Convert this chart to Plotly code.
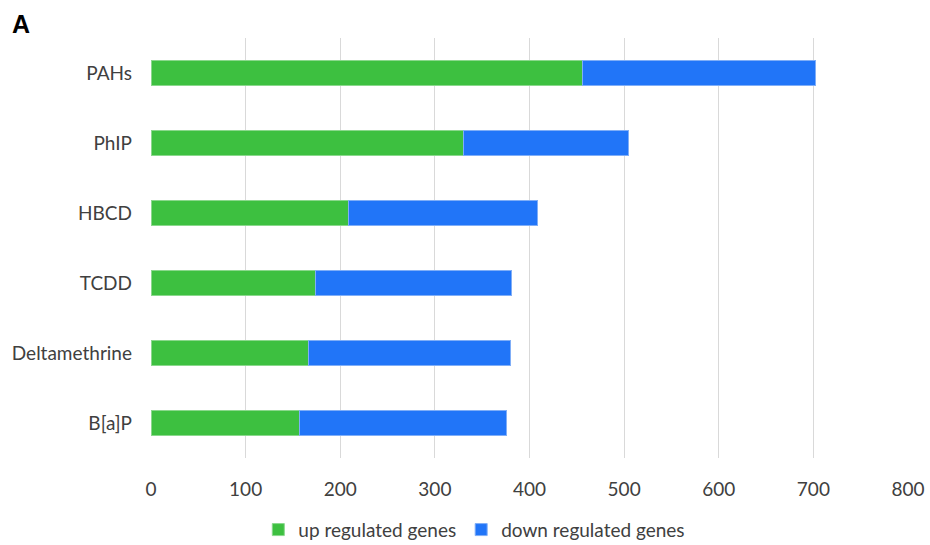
import plotly.graph_objects as go

# data
compounds = ["B[a]P", "Deltamethrine", "TCDD", "HBCD", "PhIP", "PAHs"]
up_genes = [157, 166, 174, 209, 330, 456]
totals = [376, 380, 381, 408, 505, 702]
down_genes = [t - u for t, u in zip(totals, up_genes)]

font_family = "Lato, 'Open Sans', sans-serif"

fig = go.Figure()

# up regulated
fig.add_trace(go.Bar(
    y=compounds, x=up_genes, orientation='h',
    name='up regulated genes',
    marker=dict(color='#3DC040', line=dict(color='#8ad88c', width=1)),
))

# down regulated
fig.add_trace(go.Bar(
    y=compounds, x=down_genes, orientation='h',
    name='down regulated genes',
    marker=dict(color='#2175F8', line=dict(color='#80aef7', width=1)),
))

fig.update_layout(
    barmode='stack',
    bargap=0.63,
    width=930, height=545,
    margin=dict(l=151, r=22, t=38, b=87),
    paper_bgcolor='white', plot_bgcolor='white',
    font=dict(family=font_family, size=19, color='#404040'),
    xaxis=dict(range=[0, 800], dtick=100, showgrid=True, gridcolor='#d9d9d9',
               gridwidth=1, zeroline=False, showline=False, automargin=False,
               ticklabelstandoff=18, ticklabeloverflow='allow'),
    yaxis=dict(showgrid=False, zeroline=False, showline=False, automargin=False,
               ticklabelstandoff=18),
    legend=dict(orientation='h', xref='container', x=0.51, xanchor='center',
                yref='container', y=0.028, yanchor='middle',
                font=dict(size=19), traceorder='normal', itemwidth=30),
    showlegend=True,
    annotations=[dict(text='<b>A</b>', xref='paper', yref='paper', x=-0.186, y=1.072,
                      xanchor='left', yanchor='top', showarrow=False,
                      font=dict(size=25, color='black', family='Liberation Sans, Arial'))],
)

# drop the default page margin so the figure fills the window exactly
fig.write_html("out.html",
               config={'displayModeBar': False},
               post_script="document.body.style.margin='0';document.body.style.overflow='hidden';")
